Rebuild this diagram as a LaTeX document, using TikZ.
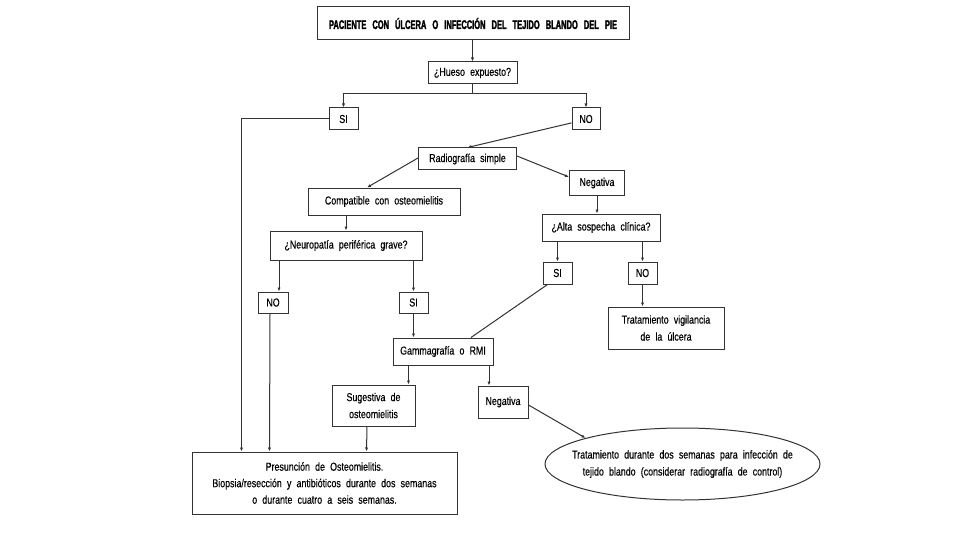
\documentclass[tikz,border=0pt]{standalone}
\usepackage{fontspec}
\setmainfont{Liberation Sans}[FakeStretch=0.77,WordSpace={2.1,1,1},FakeBold=0.3]
\newfontfamily\titlefont{Liberation Sans Bold}[FakeStretch=0.6,FakeBold=2,WordSpace={2.9,1,1}]
\usetikzlibrary{arrows.meta,shapes.geometric,calc}
\begin{document}
\begin{tikzpicture}[x=1pt,y=-1pt,
  line width=1pt,
  every node/.style={text=black},
  box/.style={draw=black!80,rectangle,inner sep=0pt,align=center,font=\fontsize{11.5}{14}\selectfont},
  con/.style={draw=black!80},
  arr/.style={con,-{Latex[length=4pt,width=3.2pt]}}]
\useasboundingbox[fill=white] (0,0) rectangle (960,540);
% nodes
\node[box,minimum width=312pt,minimum height=33pt,font=\titlefont\fontsize{12.5}{14}\selectfont] (title) at (473,23.5) {PACIENTE CON ÚLCERA O INFECCIÓN DEL TEJIDO BLANDO DEL PIE};
\node[box,minimum width=89pt,minimum height=22pt] (hueso) at (472.5,73) {¿Hueso expuesto?};
\node[box,minimum width=29pt,minimum height=22pt] (si1) at (343.5,119) {SI};
\node[box,minimum width=28pt,minimum height=22pt] (no1) at (586,119) {NO};
\node[box,minimum width=98pt,minimum height=22pt] (radio) at (467.5,159) {Radiografía simple};
\node[box,minimum width=55pt,minimum height=24pt] (neg1) at (597,183) {Negativa};
\node[box,minimum width=152pt,minimum height=27pt] (compat) at (384,201.5) {Compatible con osteomielitis};
\node[box,minimum width=152pt,minimum height=29pt] (neuro) at (346,245.5) {¿Neuropatía periférica grave?};
\node[box,minimum width=118pt,minimum height=27pt] (alta) at (601,227.5) {¿Alta sospecha clínica?};
\node[box,minimum width=30pt,minimum height=21pt] (no2) at (273,302.5) {NO};
\node[box,minimum width=29pt,minimum height=21pt] (si2) at (413.5,302.5) {SI};
\node[box,minimum width=29pt,minimum height=22pt] (si3) at (557.5,273) {SI};
\node[box,minimum width=29pt,minimum height=22pt] (no3) at (642.5,273) {NO};
\node[box,minimum width=116pt,minimum height=42pt,font=\fontsize{11.5}{17}\selectfont] (trat) at (666,328) {Tratamiento vigilancia\\de la úlcera};
\node[box,minimum width=100pt,minimum height=27pt] (gamma) at (443,351.5) {Gammagrafía o RMI};
\node[box,minimum width=83pt,minimum height=41pt,font=\fontsize{11.5}{17}\selectfont] (sug) at (373.5,405.5) {Sugestiva de\\osteomielitis};
\node[box,minimum width=50pt,minimum height=32pt] (neg2) at (503,402) {Negativa};
\node[box,minimum width=265pt,minimum height=62pt,font=\fontsize{11.5}{16.5}\selectfont] (presun) at (324.5,483) {Presunción de Osteomielitis.\\Biopsia/resección y antibióticos durante dos semanas\\o durante cuatro a seis semanas.};
\node[draw=black!80,ellipse,minimum width=275pt,minimum height=72pt,inner sep=0pt] (ell) at (682.5,464) {};
\node[align=center,inner sep=0pt,font=\fontsize{11.5}{17}\selectfont] (elltxt) at (ell.center) {Tratamiento durante dos semanas para infección de\\tejido blando (considerar radiografía de control)};
% helper coordinates
\coordinate (split) at (hueso.south |- 0,94);
\coordinate (pA) at ($(presun.north west)+(50,0)$);
\coordinate (pB) at ($(presun.north west)+(78,0)$);
\coordinate (pC) at ($(presun.north west)+(175,0)$);
\coordinate (xNo2) at ($(no2.north)+(6,0)$);
\coordinate (xSug) at ($(sug.north east)+(-7,0)$);
\coordinate (xNeg2) at ($(neg2.north)+(-14,0)$);
% connectors
\draw[arr] (title.south -| hueso.north) -- (hueso.north);
\draw[con] (hueso.south) -- (split);
\draw[arr] (split) -| (si1.north);
\draw[arr] (split) -| (no1.north);
\draw[arr] (si1.west) -| (pA);
\draw[arr] (no1.195) -- (radio.north);
\draw[arr] ($(radio.west)+(0,-1)$) -- ($(compat.north)+(-17,0)$);
\draw[arr] ($(radio.east)+(0,-3)$) -- ($(neg1.west)+(0,-6)$);
\draw[arr] (neg1.south) -- (neg1.south |- alta.north);
\draw[arr] (neuro.north |- compat.south) -- (neuro.north);
\draw[arr] (xNo2 |- neuro.south) -- (xNo2);
\draw[arr] (si2.north |- neuro.south) -- (si2.north);
\draw[arr] (si3.north |- alta.south) -- (si3.north);
\draw[arr] (no3.north |- alta.south) -- (no3.north);
\draw[arr] (no3.south) -- (no3.south |- trat.north);
\draw[con] ($(si3.south west)+(5,0)$) -- ($(gamma.north)+(28,0)$);
\draw[arr] (si2.south) -- (si2.south |- gamma.north);
\draw[arr] (xSug |- gamma.south) -- (xSug);
\draw[arr] (xNeg2 |- gamma.south) -- (xNeg2);
\draw[arr] ($(sug.south)+(-6.5,0)$) -- (pC);
\draw[arr] ($(no2.south)+(-3,0)$) -- (pB);
\draw[arr] ($(neg2.east)+(0,3)$) -- (ell.165);
\end{tikzpicture}
\end{document}
